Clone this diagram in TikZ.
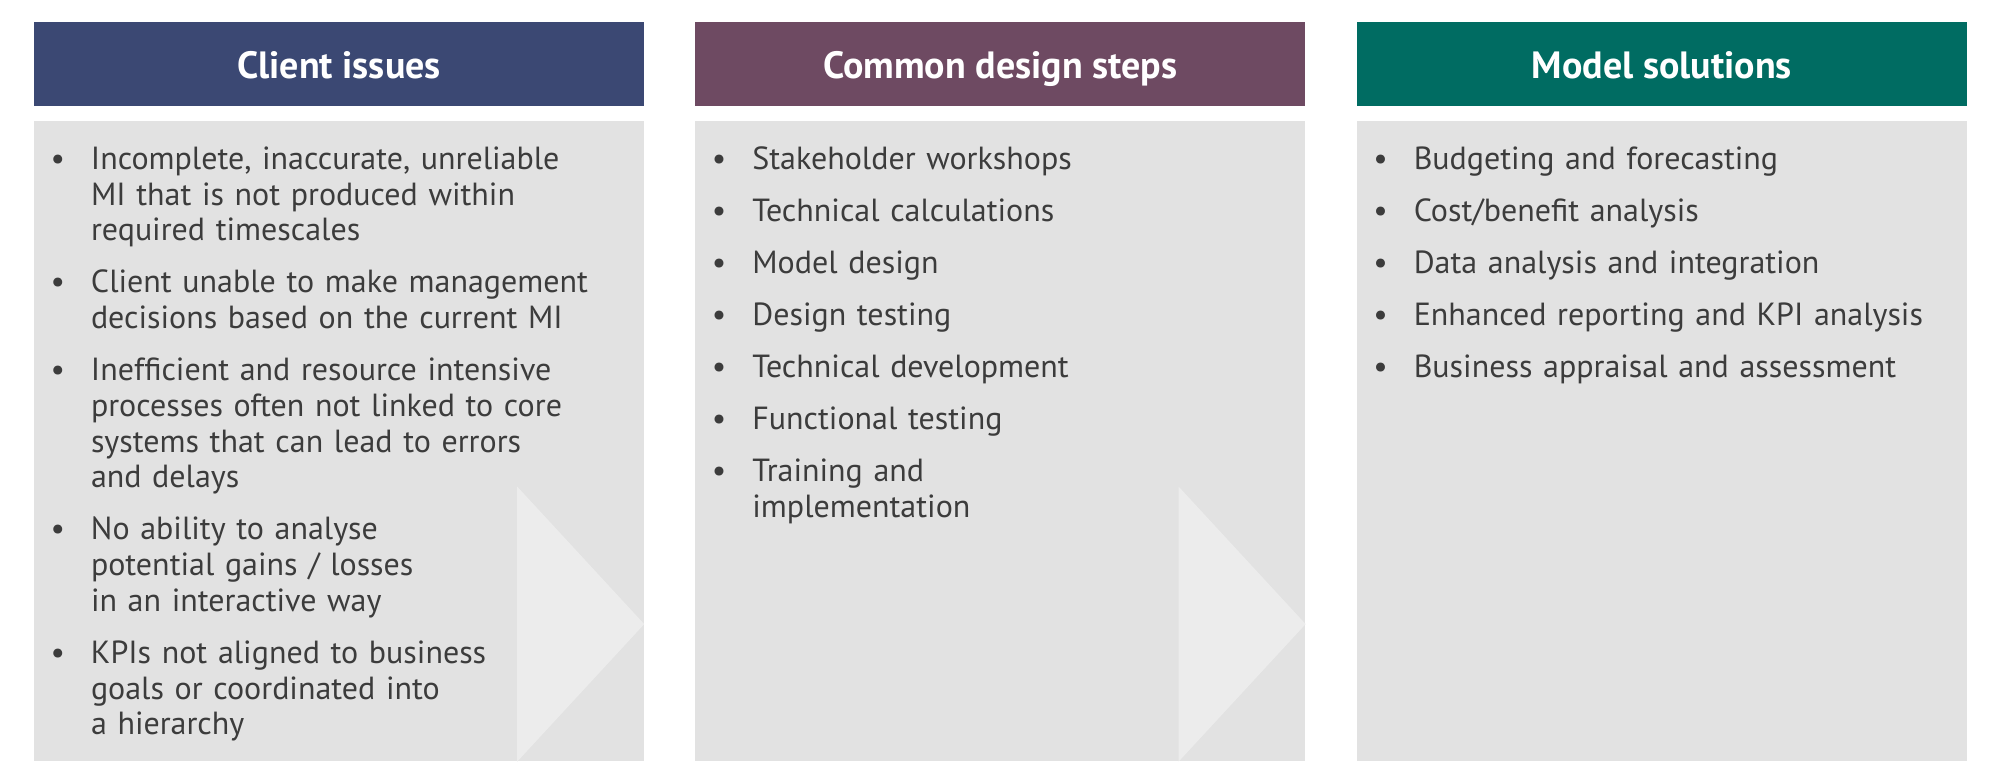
\documentclass[tikz,border=0pt]{standalone}
\usepackage{fontspec}
\setmainfont{PT Sans}
\usetikzlibrary{positioning,calc}

\definecolor{clienthead}{HTML}{3B4873}
\definecolor{designhead}{HTML}{6E4A62}
\definecolor{modelhead}{HTML}{006C62}
\definecolor{panelgrey}{HTML}{E2E2E2}
\definecolor{arrowgrey}{HTML}{ECECEC}
\definecolor{bodytext}{HTML}{3C3C3C}

\newcommand{\itm}[1]{\llap{\textbullet\hspace{26pt}}\strut#1\strut}

\tikzset{
  head/.style={rectangle,fill=#1,minimum width=610pt,minimum height=84pt,inner sep=0pt,
    text=white,text height=28pt,text depth=0pt,font=\bfseries\fontsize{38}{40}\selectfont},
  panel/.style={rectangle,fill=panelgrey,minimum width=610pt,minimum height=640pt,inner sep=0pt},
  entry/.style={inner sep=0pt,text width=540pt,align=left,text=bodytext,
    font=\fontsize{32}{35.7}\selectfont},
}

\begin{document}
\begin{tikzpicture}
  \useasboundingbox (0,0) rectangle (2000pt,-777pt);

  \node[head=clienthead] (hd1) at (339pt,-64pt) {Client issues};
  \node[head=designhead,right=51pt of hd1] (hd2) {Common design steps};
  \node[head=modelhead,right=51pt of hd2] (hd3) {Model solutions};

  \node[panel,below=15pt of hd1] (pn1) {};
  \node[panel,below=15pt of hd2] (pn2) {};
  \node[panel,below=15pt of hd3] (pn3) {};

  % light arrows at the right end of the first two panels
  \fill[arrowgrey] ($(pn1.south east)+(-127pt,0)$) -- ($(pn1.south east)+(0,137.5pt)$)
    -- ($(pn1.south east)+(-127pt,275pt)$) -- cycle;
  \fill[arrowgrey] ($(pn2.south east)+(-127pt,0)$) -- ($(pn2.south east)+(0,137.5pt)$)
    -- ($(pn2.south east)+(-127pt,275pt)$) -- cycle;

  % client issues
  \node[entry,below right=23pt and 57pt of pn1.north west] (c1) {\itm{Incomplete, inaccurate, unreliable\\MI that is not produced within\\required timescales}};
  \node[entry,below right=16pt and 0pt of c1.south west] (c2) {\itm{Client unable to make management\\decisions based on the current MI}};
  \node[entry,below right=16pt and 0pt of c2.south west] (c3) {\itm{Inefficient and resource intensive\\processes often not linked to core\\systems that can lead to errors\\and delays}};
  \node[entry,below right=16pt and 0pt of c3.south west] (c4) {\itm{No ability to analyse\\potential gains / losses\\in an interactive way}};
  \node[entry,below right=16pt and 0pt of c4.south west] (c5) {\itm{KPIs not aligned to business\\goals or coordinated into\\a hierarchy}};

  % design steps
  \node[entry,below right=23pt and 57pt of pn2.north west] (d1) {\itm{Stakeholder workshops}};
  \node[entry,below right=16pt and 0pt of d1.south west] (d2) {\itm{Technical calculations}};
  \node[entry,below right=16pt and 0pt of d2.south west] (d3) {\itm{Model design}};
  \node[entry,below right=16pt and 0pt of d3.south west] (d4) {\itm{Design testing}};
  \node[entry,below right=16pt and 0pt of d4.south west] (d5) {\itm{Technical development}};
  \node[entry,below right=16pt and 0pt of d5.south west] (d6) {\itm{Functional testing}};
  \node[entry,below right=16pt and 0pt of d6.south west] (d7) {\itm{Training and\\implementation}};

  % model solutions
  \node[entry,below right=23pt and 57pt of pn3.north west] (m1) {\itm{Budgeting and forecasting}};
  \node[entry,below right=16pt and 0pt of m1.south west] (m2) {\itm{Cost/benefit analysis}};
  \node[entry,below right=16pt and 0pt of m2.south west] (m3) {\itm{Data analysis and integration}};
  \node[entry,below right=16pt and 0pt of m3.south west] (m4) {\itm{Enhanced reporting and KPI analysis}};
  \node[entry,below right=16pt and 0pt of m4.south west] (m5) {\itm{Business appraisal and assessment}};
\end{tikzpicture}
\end{document}
